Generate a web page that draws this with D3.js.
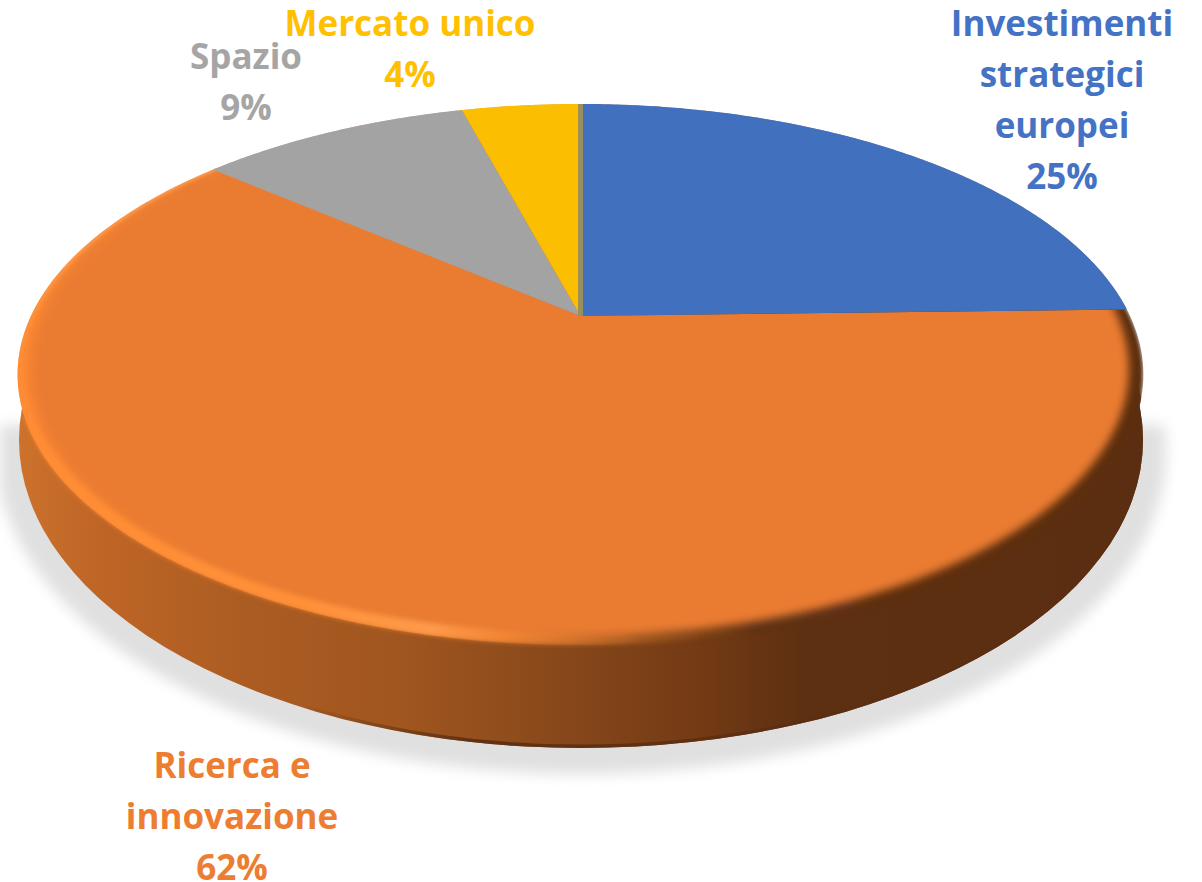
<!DOCTYPE html>
<html>
<head>
<meta charset="utf-8">
<script src="https://cdn.jsdelivr.net/npm/d3@7"></script>
<style>
    html, body { margin: 0; padding: 0; background: #fff; overflow: hidden; }
    text { font-family: "Open Sans", Lato, sans-serif; font-weight: 700; font-size: 35px; text-anchor: middle; }
</style>
</head>
<body>
<div id="chart"></div>
<script>
const categories = ["Investimenti strategici europei", "Ricerca e innovazione", "Spazio", "Mercato unico"];
const shares = [24.6, 61.6, 9.6, 4.2];   // measured from the slice edges
const shareLabels = ["25%", "62%", "9%", "4%"];
const colors = ["#4170bf", "#ea7c30", "#a3a3a3", "#fbbe00"];
const textColors = ["#4472c4", "#ed7d31", "#a5a5a5", "#ffc000"];

const width = 1202;
const height = 882;

// tilted disc: circle -> perspective projection
const outer = { cx: 580.5, cy: 316, a: 549.6, b: 257.9, k: -0.2163 };
const inner = { cx: 580.5, cy: 316, a: 537, b: 254.7, k: -0.2015 };

function project(angle, p) {
    const u = Math.sin(angle);
    const v = -Math.cos(angle);
    const d = 1 + p.k * v;
    return [p.cx + p.a * u / d, p.cy + p.b * v / d];
}

const line = d3.line();

function discPath(p) {
    return line(d3.range(0, 361).map(i => project(i * Math.PI / 180, p))) + "Z";
}

function slicePath(d, p) {
    const n = Math.max(2, Math.ceil((d.endAngle - d.startAngle) * 120));
    const pts = d3.range(n + 1).map(i => project(d.startAngle + (d.endAngle - d.startAngle) * i / n, p));
    return line([[p.cx, p.cy], ...pts]) + "Z";
}

const svg = d3.select("#chart").append("svg")
    .attr("width", width)
    .attr("height", height)
    .attr("viewBox", [0, 0, width, height])
    .style("display", "block");

const defs = svg.append("defs");

function addGradient(id, stops) {
    defs.append("linearGradient")
        .attr("id", id)
        .attr("gradientUnits", "userSpaceOnUse")
        .attr("x1", 0).attr("x2", width).attr("y1", 0).attr("y2", 0)
        .selectAll("stop").data(stops).join("stop")
        .attr("offset", d => d[0] / width)
        .attr("stop-color", d => d[1])
        .attr("stop-opacity", d => d[2] === undefined ? 1 : d[2]);
}

addGradient("wallFill", [[20, "#cc722c"], [90, "#c06627"], [250, "#ab5c22"], [400, "#a0561f"],
    [580, "#85461a"], [700, "#733a14"], [800, "#5e3012"], [1142, "#5c2e11"]]);
addGradient("rimFill", [[18, "#f98533"], [480, "#e07a2e"], [620, "#a85c22"],
    [760, "#5e3012"], [1142, "#5c2e11"]]);
addGradient("wallEdge", [[300, "#5c2e11", 0], [470, "#5c2e11", 0.9], [1142, "#5c2e11", 0.9]]);
addGradient("glint", [[18, "#ff8c35"], [300, "#ff9038"], [430, "#ff9a4a"], [520, "#ff8c38", 0.5], [640, "#ff8c38", 0]]);

function addBlur(id, dev) {
    defs.append("filter").attr("id", id)
        .attr("x", "-5%").attr("y", "-5%").attr("width", "110%").attr("height", "110%")
        .append("feGaussianBlur").attr("stdDeviation", dev);
}
addBlur("shadowBlur", 7);
addBlur("rimBlur", 2);
addBlur("faceBlur", 4);
addBlur("glintBlur", 2.5);

const wall = { cx: 581, cy: 440, rx: 562, ry: 308 };

const slices = d3.pie().sort(null)(shares);

defs.append("clipPath").attr("id", "shadowClip")
    .append("rect").attr("x", 0).attr("y", 425).attr("width", width).attr("height", height);

const bodyClip = defs.append("clipPath").attr("id", "bodyClip");
bodyClip.append("path").attr("d", discPath(outer));
bodyClip.append("ellipse").attr("cx", wall.cx).attr("cy", wall.cy).attr("rx", wall.rx).attr("ry", wall.ry);

defs.append("clipPath").attr("id", "orangeClip")
    .append("path").attr("d", slicePath(slices[1], outer));

// shadow
svg.append("g").attr("filter", "url(#shadowBlur)")
    .append("g").attr("clip-path", "url(#shadowClip)")
    .append("ellipse")
    .attr("cx", 581).attr("cy", 452).attr("rx", 585).attr("ry", 322)
    .attr("fill", "#e0e0e0");

// side wall
svg.append("ellipse")
    .attr("cx", wall.cx).attr("cy", wall.cy).attr("rx", wall.rx).attr("ry", wall.ry)
    .attr("fill", "url(#wallFill)");
svg.append("g").attr("clip-path", "url(#bodyClip)")
    .append("ellipse")
    .attr("cx", wall.cx).attr("cy", wall.cy).attr("rx", wall.rx).attr("ry", wall.ry)
    .attr("fill", "none")
    .attr("stroke", "url(#wallEdge)")
    .attr("stroke-width", 7);

// bevel round the top face
svg.append("g").attr("clip-path", "url(#bodyClip)")
    .append("path")
    .attr("d", discPath(outer))
    .attr("fill", "url(#rimFill)")
    .attr("filter", "url(#rimBlur)");

// flat part of the large slice, with the light edge on the lit side
const face = svg.append("g").attr("clip-path", "url(#orangeClip)");
face.append("path")
    .attr("d", discPath(inner))
    .attr("fill", colors[1])
    .attr("filter", "url(#faceBlur)");
face.append("path")
    .attr("d", discPath(outer))
    .attr("fill", "none")
    .attr("stroke", "url(#glint)")
    .attr("stroke-width", 13)
    .attr("transform", "translate(0,-6)")
    .attr("filter", "url(#glintBlur)");

// the other slices lie flat
svg.selectAll("path.slice")
    .data(slices.filter(d => d.index !== 1))
    .join("path")
    .attr("class", "slice")
    .attr("d", d => slicePath(d, outer))
    .attr("fill", d => colors[d.index]);

// thin seam where the first slice starts
svg.append("path")
    .attr("d", line([[outer.cx, outer.cy], project(0, outer)]))
    .attr("stroke", "#9a8f5c")
    .attr("stroke-width", 5);

// labels
const labelLines = [
    ["Investimenti", "strategici", "europei"],
    ["Ricerca e", "innovazione"],
    ["Spazio"],
    ["Mercato unico"]
];
const labelAnchors = [[1062, 35.5], [232, 778], [246, 69], [410, 36]];
const lineStep = 51;

const labels = svg.selectAll("text.label")
    .data(categories)
    .join("text")
    .attr("class", "label")
    .attr("fill", (d, i) => textColors[i])
    .attr("transform", (d, i) => `translate(${labelAnchors[i]})`);

labels.selectAll("tspan")
    .data((d, i) => [...labelLines[i], shareLabels[i]])
    .join("tspan")
    .attr("x", 0)
    .attr("y", (d, i) => i * lineStep)
    .text(d => d);
</script>
</body>
</html>
